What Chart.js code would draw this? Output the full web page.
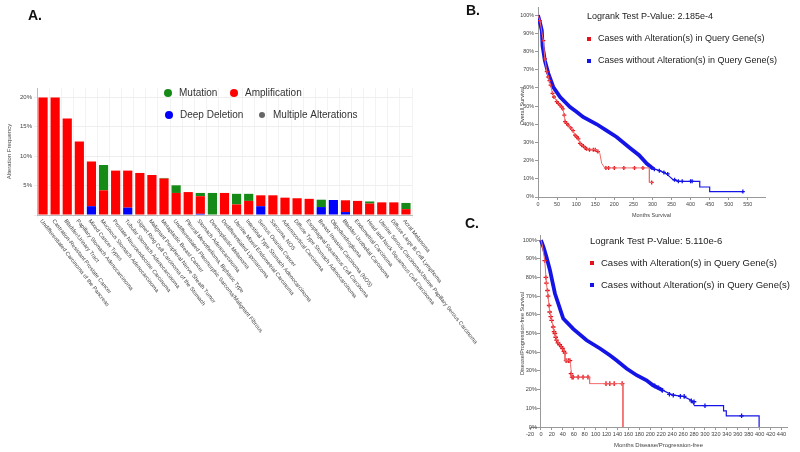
<!DOCTYPE html>
<html>
<head>
<meta charset="utf-8">
<script src="https://cdn.jsdelivr.net/npm/chart.js@4.4.0/dist/chart.umd.min.js"></script>
<style>
  html, body { margin: 0; padding: 0; background: #fff; }
  #wrap { position: relative; width: 800px; height: 452px; overflow: hidden; }
  #wrap canvas { position: absolute; }
  .panel { position: absolute; font: bold 14px "Liberation Sans", Arial, sans-serif; color: #111; }
</style>
</head>
<body>
<div id="wrap">
  <canvas id="chartA" width="500" height="452" style="left:0;top:0"></canvas>
  <canvas id="chartB" width="300" height="226" style="left:500px;top:0"></canvas>
  <canvas id="chartC" width="300" height="226" style="left:500px;top:226px"></canvas>
  <div class="panel" style="left:28px;top:7px">A.</div>
  <div class="panel" style="left:466px;top:2px">B.</div>
  <div class="panel" style="left:465px;top:215px">C.</div>
</div>
<script>
/* Panel A: alteration frequency per cancer type (stacked bars).
 * Panels B / C: Kaplan-Meier curves, altered vs unaltered cases. */

// ----- Panel A data -----
const cancerTypes = [
  "Undifferentiated Carcinoma of the Pancreas", "Castration-Resistant Prostate Cancer",
  "Bladder/Urinary Tract", "Papillary Stomach Adenocarcinoma", "Mixed Cancer Types",
  "Mucinous Stomach Adenocarcinoma", "Prostate Neuroendocrine Carcinoma",
  "Tubular Stomach Adenocarcinoma", "Signet Ring Cell Carcinoma of the Stomach",
  "Malignant Peripheral Nerve Sheath Tumor", "Metaplastic Breast Cancer",
  "Undifferentiated Pleomorphic Sarcoma/Malignant Fibrous", "Pleural Mesothelioma, Biphasic Type",
  "Stomach Adenocarcinoma", "Desmoplastic Melanoma", "Dedifferentiated Liposarcoma",
  "Uterine Mixed Endometrial Carcinoma", "Intestinal Type Stomach Adenocarcinoma",
  "Serous Ovarian Cancer", "Sarcoma, NOS", "Adrenocortical Carcinoma",
  "Diffuse Type Stomach Adenocarcinoma", "Esophageal Squamous Cell Carcinoma",
  "Breast Invasive Carcinoma (NOS)", "Oligodendroglioma", "Bladder Urothelial Carcinoma",
  "Endometrial Carcinoma", "Head and Neck Squamous Cell Carcinoma",
  "Uterine Serous Carcinoma/Uterine Papillary Serous Carcinoma",
  "Diffuse Large B-Cell Lymphoma", "Acral Melanoma",
];
const deepDeletion  = [0, 0, 0, 0, 1.5, 0, 0, 1.25, 0, 0, 0, 0, 0, 0.2, 0, 0, 0, 0, 1.5, 0, 0, 0, 0, 1.35, 2.55, 0.5, 0, 0, 0, 0, 0];
const amplification = [20, 20, 16.4, 12.5, 7.6, 4.2, 7.55, 6.3, 7.15, 6.8, 6.2, 3.75, 3.9, 3.0, 0, 3.75, 1.8, 2.4, 1.85, 3.35, 2.95, 2.85, 2.75, 0, 0, 2.0, 2.4, 1.95, 2.15, 2.15, 1.0];
const mutation      = [0, 0, 0, 0, 0, 4.3, 0, 0, 0, 0, 0.1, 1.3, 0, 0.55, 3.75, 0, 1.8, 1.2, 0, 0, 0, 0, 0, 1.25, 0, 0, 0, 0.35, 0, 0, 1.05];
const multipleAlt   = [0, 0, 0, 0, 0, 0, 0, 0, 0, 0, 0, 0, 0, 0, 0, 0, 0, 0, 0, 0, 0, 0, 0, 0, 0, 0, 0, 0, 0, 0, 0];

// ----- Panel B data (overall survival) -----
const bAltMonths   = [0, 5, 14, 18, 23, 27, 33, 38, 49, 58, 65, 69, 71, 79, 92, 97, 106, 110, 119, 127, 154, 162, 167, 175, 292, 292, 300];
const bAltSurv     = [100, 97, 86, 76, 69, 66, 61.5, 57, 52.5, 50.5, 48.5, 45, 41.5, 39.5, 36.5, 34, 32, 29.5, 28, 26.5, 26, 24, 18.5, 16, 16, 8, 8];
const bAltCensM    = [5, 14, 18, 23, 27, 30, 33, 38, 42, 49, 53, 58, 62, 65, 69, 71, 75, 79, 86, 92, 97, 102, 106, 110, 115, 119, 124, 127, 135, 145, 150, 157, 178, 185, 200, 225, 253, 275, 298];
const bAltCensS    = [97, 86, 76, 69, 66, 64, 61.5, 57, 55, 52.5, 51.5, 50.5, 49.5, 48.5, 45, 41.5, 40.5, 39.5, 38, 36.5, 34, 33, 32, 29.5, 28.5, 28, 27, 26.5, 26, 26, 26, 25, 16, 16, 16, 16, 16, 16, 8];
const bUnaltMonths = [0, 5, 10, 12, 18, 27, 40, 58, 84, 100, 118, 154, 180, 206, 241, 265, 285, 302, 319, 337, 354, 371, 424, 424, 450, 450, 537];
const bUnaltSurv   = [100, 96, 91.5, 83, 75, 68, 60.5, 55, 49.5, 47, 44, 40, 36.5, 33, 27, 23, 18.4, 15.6, 14.5, 12.7, 9.5, 8.6, 8.6, 5.5, 5.5, 3, 3];
const bUnaltCensM  = [305, 318, 330, 340, 358, 368, 378, 400, 404, 537];
const bUnaltCensS  = [15.2, 14.5, 13.5, 12.7, 9.5, 8.6, 8.6, 8.6, 8.6, 3];

// ----- Panel C data (disease/progression-free survival) -----
const cAltMonths   = [0, 2, 7, 10, 13, 16, 19.5, 22.5, 25.5, 28.5, 34.5, 39.5, 44, 44, 53, 54, 56, 57, 89, 89, 150, 150];
const cAltSurv     = [100, 98, 89, 77, 70, 61.5, 57, 53.5, 50, 46.5, 44, 42, 39.5, 35.5, 35.5, 33.5, 28.5, 26.7, 26.7, 23.2, 23.2, 0];
const cAltCensM    = [7, 9, 10, 12, 13, 15, 16, 18, 19.5, 22.5, 24, 25.5, 27, 28.5, 31, 34.5, 37, 39.5, 42, 44, 46, 50, 53, 55, 57, 59, 68, 77, 86, 119, 126, 134, 148.5];
const cAltCensS    = [89, 80, 77, 73, 70, 65, 61.5, 59, 57, 53.5, 51, 50, 48, 46.5, 45, 44, 43, 42, 40.5, 39.5, 35.5, 35.5, 35.5, 28.5, 26.7, 26.7, 26.7, 26.7, 26.7, 23.2, 23.2, 23.2, 23.2];
const cUnaltMonths = [0, 5, 10, 16.4, 25.6, 40.8, 59, 83.5, 108, 126, 138, 156.5, 175, 193, 205, 223, 241.6, 260, 275, 281, 334, 334, 339, 339, 399, 399];
const cUnaltSurv   = [100, 96, 91, 84, 71.4, 58, 52.5, 46.4, 42, 38.4, 35.7, 31.3, 27.7, 25, 22.3, 19.6, 17, 16.4, 14.3, 11.4, 11.4, 8.6, 8.6, 6, 6, 0];
const cUnaltCensM  = [208, 215, 222, 235, 242, 255, 262, 275, 280, 300, 367];
const cUnaltCensS  = [22, 21, 19.6, 17.5, 17, 16.4, 16.4, 14, 13.5, 11.4, 6];

// ----- Common styling -----
const FONT = '"Liberation Sans", Arial, Helvetica, sans-serif';
Chart.defaults.font.family = FONT;
Chart.defaults.color = "#444";

const MUT = "#168a16", AMP = "#ff0000", DEL = "#0000ff", MULTI = "#666666";
const RED_LINE = "#f26a6a", RED_MARK = "#e3121b", BLUE = "#1414e6";

const pairs = (xs, ys) => xs.map((x, i) => ({ x, y: ys[i] }));

// Rotated category labels + two-row legend for panel A.
const panelAPlugin = {
  id: "panelA",
  afterDraw(chart) {
    const { ctx, chartArea, scales: { x } } = chart;
    ctx.save();
    ctx.fillStyle = "#444";
    ctx.font = `5.6px ${FONT}`;
    ctx.textAlign = "left";
    ctx.textBaseline = "middle";
    chart.data.labels.forEach((lab, i) => {
      ctx.save();
      ctx.translate(x.getPixelForValue(i) - 2, chartArea.bottom + 5);
      ctx.rotate(52 * Math.PI / 180);
      ctx.fillText(lab, 0, 0);
      ctx.restore();
    });

    // legend: [dataset index, x, y, dot radius]
    const items = [[2, 168, 93, 4], [1, 234, 93, 4], [0, 169, 115, 4], [3, 262, 115, 3]];
    ctx.font = `10px ${FONT}`;
    items.forEach(([di, lx, ly, r]) => {
      const ds = chart.data.datasets[di];
      ctx.beginPath();
      ctx.arc(lx, ly, r, 0, Math.PI * 2);
      ctx.fillStyle = ds.backgroundColor;
      ctx.fill();
      ctx.fillStyle = "#333";
      ctx.fillText(ds.label, lx + 11, ly);
    });
    ctx.restore();
  },
};

new Chart(document.getElementById("chartA"), {
  type: "bar",
  data: {
    labels: cancerTypes,
    datasets: [
      { label: "Deep Deletion", data: deepDeletion, backgroundColor: DEL },
      { label: "Amplification", data: amplification, backgroundColor: AMP },
      { label: "Mutation", data: mutation, backgroundColor: MUT },
      { label: "Multiple Alterations", data: multipleAlt, backgroundColor: MULTI },
    ],
  },
  options: {
    responsive: false,
    animation: false,
    devicePixelRatio: 1,
    layout: { padding: { left: 0, top: 88, right: 88, bottom: 233 } },
    plugins: { legend: { display: false }, tooltip: { enabled: false } },
    datasets: { bar: { barPercentage: 0.76, categoryPercentage: 1 } },
    scales: {
      x: {
        stacked: true,
        ticks: { display: false },
        grid: { color: "#f3f3f3", tickLength: 3 },
        border: { color: "#bbb" },
        afterFit(s) { s.height = 4; },
      },
      y: {
        stacked: true,
        min: 0,
        max: 21.6,
        ticks: {
          stepSize: 5,
          includeBounds: false,
          padding: 2,
          font: { size: 6 },
          callback: (v) => (v === 0 ? "" : v + "%"),
        },
        grid: { color: "#eeeeee", tickLength: 3 },
        border: { color: "#bbb" },
        title: { display: true, text: "Alteration Frequency", font: { size: 6 }, padding: { top: 6, bottom: 0 } },
        afterFit(s) { s.width = 37; },
      },
    },
  },
  plugins: [panelAPlugin],
});

// ----- Kaplan-Meier panels -----
function survivalChart(id, cfg) {
  // y tick labels, y title, p-value and legend drawn beside the axis at x = 0
  const sidePlugin = {
    id: "side" + id,
    afterDraw(chart) {
      const { ctx, scales: { x, y } } = chart;
      const x0 = x.getPixelForValue(0);
      ctx.save();
      ctx.fillStyle = "#444";
      ctx.font = `${cfg.tickSize}px ${FONT}`;
      ctx.textAlign = "right";
      ctx.textBaseline = "middle";
      y.ticks.forEach((t) => ctx.fillText(t.value + "%", x0 - 4, y.getPixelForValue(t.value)));

      ctx.save();
      ctx.translate(22, (y.getPixelForValue(0) + y.getPixelForValue(100)) / 2);
      ctx.rotate(-Math.PI / 2);
      ctx.textAlign = "center";
      ctx.font = `5.5px ${FONT}`;
      ctx.fillText(cfg.yTitle, 0, 0);
      ctx.restore();

      ctx.textAlign = "left";
      ctx.fillStyle = "#222";
      ctx.font = `${cfg.legendSize}px ${FONT}`;
      ctx.fillText("Logrank Test P-Value: " + cfg.pValue, cfg.legendX, cfg.legendY);
      [0, 2].forEach((di, k) => {
        const ds = chart.data.datasets[di];
        const ly = cfg.legendY + cfg.legendGap * (k + 1);
        ctx.fillStyle = di === 0 ? RED_MARK : BLUE;
        ctx.fillRect(cfg.legendX, ly - 2, 4, 4);
        ctx.fillStyle = "#222";
        ctx.fillText(ds.label, cfg.legendX + 11, ly);
      });
      ctx.restore();
    },
  };

  return new Chart(document.getElementById(id), {
    type: "scatter",
    data: {
      datasets: [
        {
          label: "Cases with Alteration(s) in Query Gene(s)",
          data: pairs(cfg.altM, cfg.altS),
          showLine: true, pointRadius: 0, borderColor: RED_LINE, borderWidth: 1,
        },
        {
          label: "altered censored",
          data: pairs(cfg.altCM, cfg.altCS),
          pointStyle: "cross", pointRadius: cfg.markSize, pointBorderWidth: 1.3,
          borderColor: RED_MARK, backgroundColor: RED_MARK,
        },
        {
          label: "Cases without Alteration(s) in Query Gene(s)",
          data: pairs(cfg.unM, cfg.unS),
          showLine: true, pointRadius: 0, borderColor: BLUE, borderWidth: 1.2,
          segment: { borderWidth: (c) => (c.p0.parsed.x < cfg.thickUntil ? 3.8 : 1.2) },
        },
        {
          label: "unaltered censored",
          data: pairs(cfg.unCM, cfg.unCS),
          pointStyle: "cross", pointRadius: cfg.markSize, pointBorderWidth: 1.3,
          borderColor: BLUE, backgroundColor: BLUE,
        },
      ],
    },
    options: {
      responsive: false,
      animation: false,
      devicePixelRatio: 1,
      layout: { padding: cfg.padding },
      plugins: { legend: { display: false }, tooltip: { enabled: false } },
      scales: {
        x: {
          type: "linear",
          min: cfg.xMin,
          max: cfg.xMax,
          ticks: { stepSize: cfg.xStep, includeBounds: false, maxRotation: 0, autoSkip: false, padding: 1, font: { size: cfg.tickSize } },
          grid: { drawOnChartArea: false, tickLength: 3, color: "#999" },
          border: { color: "#999" },
          title: { display: true, text: cfg.xTitle, font: { size: cfg.titleSize }, padding: { top: 0, bottom: cfg.titlePad } },
          afterFit(s) { s.height = cfg.xHeight; },
        },
        y: {
          type: "linear",
          position: { x: 0 },
          min: 0,
          max: cfg.yMax,
          ticks: { stepSize: 10, includeBounds: false, display: false },
          grid: { drawOnChartArea: false, tickLength: 3, color: "#999" },
          border: { color: "#999" },
        },
      },
    },
    plugins: [sidePlugin],
  });
}

survivalChart("chartB", {
  altM: bAltMonths, altS: bAltSurv, altCM: bAltCensM, altCS: bAltCensS,
  unM: bUnaltMonths, unS: bUnaltSurv, unCM: bUnaltCensM, unCS: bUnaltCensS,
  xMin: 0, xMax: 595, xStep: 50, yMax: 104.5,
  xTitle: "Months Survival", yTitle: "Overall Survival", pValue: "2.185e-4",
  padding: { left: 38, right: 35, top: 7, bottom: 5 }, xHeight: 24, titlePad: 2,
  tickSize: 5.4, titleSize: 5.5, legendSize: 9, legendX: 87, legendY: 17, legendGap: 22,
  thickUntil: 300, markSize: 2,
});

survivalChart("chartC", {
  altM: cAltMonths, altS: cAltSurv, altCM: cAltCensM, altCS: cAltCensS,
  unM: cUnaltMonths, unS: cUnaltSurv, unCM: cUnaltCensM, unCS: cUnaltCensS,
  xMin: -20, xMax: 450, xStep: 20, yMax: 102.7,
  xTitle: "Months Disease/Progression-free", yTitle: "Disease/Progression-free Survival", pValue: "5.110e-6",
  padding: { left: 30, right: 13, top: 9, bottom: 3 }, xHeight: 22, titlePad: 0,
  tickSize: 5.6, titleSize: 6, legendSize: 9.5, legendX: 90, legendY: 15, legendGap: 22,
  thickUntil: 215, markSize: 2.3,
});
</script>
</body>
</html>
